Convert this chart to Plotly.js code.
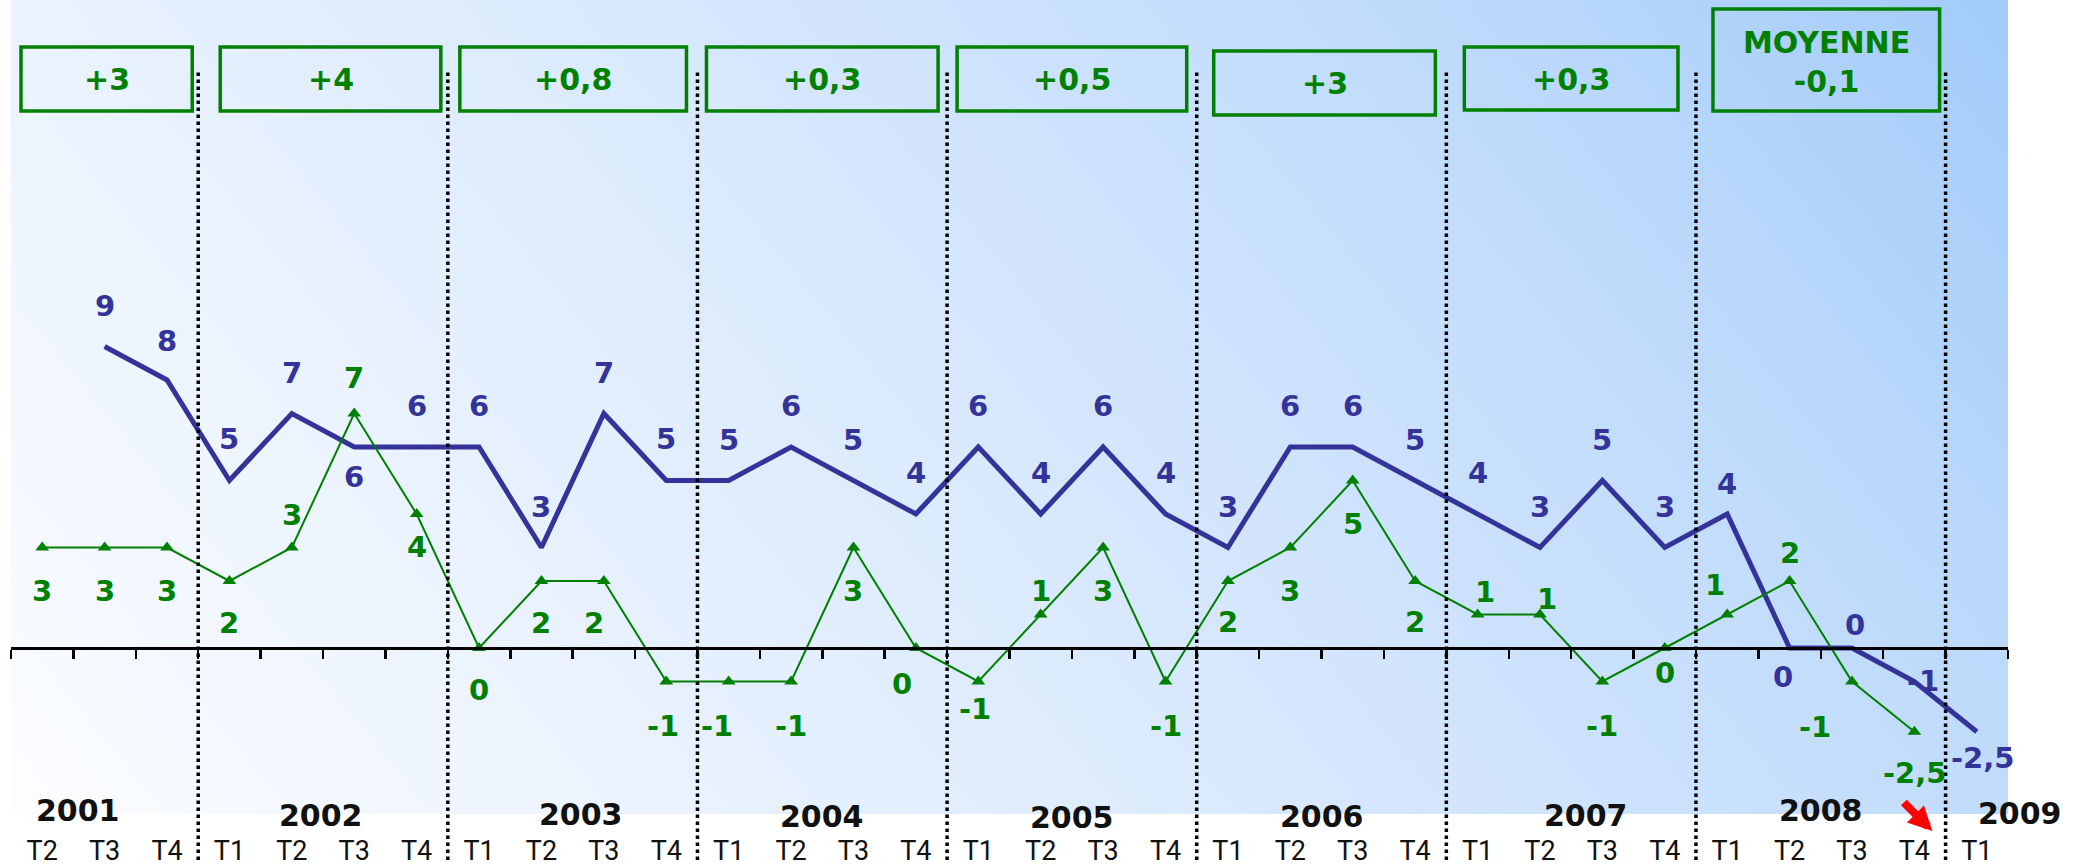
<!DOCTYPE html>
<html>
<head>
<meta charset="utf-8">
<script src="https://cdn.plot.ly/plotly-3.0.1.min.js"></script>
<style>
  html, body { margin: 0; padding: 0; background: #ffffff; }
  #chart { width: 2090px; height: 866px; }
</style>
</head>
<body>
<div id="chart"></div>
<script>
// ---------------- DATA ----------------
const yearLabels = ['2001', '2002', '2003', '2004', '2005', '2006', '2007', '2008', '2009'];
const quartersPerYear = [3, 4, 4, 4, 4, 4, 4, 4, 1];
const quarterLabels = [
  'T2', 'T3', 'T4',
  'T1', 'T2', 'T3', 'T4',
  'T1', 'T2', 'T3', 'T4',
  'T1', 'T2', 'T3', 'T4',
  'T1', 'T2', 'T3', 'T4',
  'T1', 'T2', 'T3', 'T4',
  'T1', 'T2', 'T3', 'T4',
  'T1', 'T2', 'T3', 'T4',
  'T1'
];
// thick blue series
const blueValues = [null, 9, 8, 5, 7, 6, 6, 6, 3, 7, 5, 5, 6, 5, 4, 6, 4, 6, 4, 3, 6, 6, 5, 4, 3, 5, 3, 4, 0, 0, -1, -2.5];
// thin green series with triangles
const greenValues = [3, 3, 3, 2, 3, 7, 4, 0, 2, 2, -1, -1, -1, 3, 0, -1, 1, 3, -1, 2, 3, 5, 2, 1, 1, -1, 0, 1, 2, -1, -2.5, null];
// yearly boxes (2001 .. 2008)
const boxTexts = ['+3', '+4', '+0,8', '+0,3', '+0,5', '+3', '+0,3', 'MOYENNE<br>-0,1'];

// ---------------- STYLE / PLACEMENT (pixels) ----------------
const W = 2090, H = 866;
const M = { l: 11, r: 82, t: 0, b: 52 };
const plotW = W - M.l - M.r, plotH = H - M.t - M.b;
const zeroPx = 648, unitPx = 33.5;           // y scale
const yTop = zeroPx / unitPx, yBot = (zeroPx - plotH) / unitPx;

const BLUE = '#333399', GREEN = '#008000';
const blueLabelDy = [0, 41, 39, 42, 41, -30, 41, 41, 41, 41, 42, 41, 41, 41, 41, 41, 41, 41, 41, 41, 41, 41, 41, 41, 41, 41, 41, 30, -29, 23, 1, -26];
const blueLabelDx = [0, 0, 0, 0, 0, 0, 0, 0, 0, 0, 0, 0, 0, 0, 0, 0, 0, 0, 0, 0, 0, 0, 0, 0, 0, 0, 0, 0, -7, 3, 9, 6];
const greenLabelDy = [-43, -43, -43, -42, 33, 36, -33, -42, -42, -42, -44, -44, -44, -43, -36, -27, 24, -43, -44, -41, -43, -43, -41, 23, 16, -44, -25, 30, 28, -45, -41, 0];
const greenLabelDx = [0, 0, 0, 0, 0, 0, 0, 0, 0, -10, -3, -12, 0, 0, -14, -3, 0, 0, 0, 0, 0, 0, 0, 7, 7, 0, 0, -12, 0, -37, 0, 0];
const yearShiftX = [-27, -2, 8, 0, 0, 0, 15, 0, 43];
const yearCenterPx = [810, 815, 814, 816, 817, 816, 815, 810, 813];
const boxInsetL = [10, 22, 12, 9, 10, 17, 18, 17];
const boxInsetR = [6, 7, 11, 9, 10, 11, 18, 6];
const boxTopPx = [47, 47, 47, 47, 47, 51, 47, 9];
const boxBotPx = [111, 111, 111, 111, 111, 115, 110, 111];
const boxTextPx = [79, 79, 79, 79, 79, 83, 79, 62];

// ---------------- BUILD ----------------
const categories = [];
const groupStart = [];  // first category index of each year
let k = 0;
yearLabels.forEach((y, gi) => {
  groupStart.push(k);
  for (let q = 0; q < quartersPerYear[gi]; q++) {
    categories.push(y + ' ' + quarterLabels[k]);
    k++;
  }
});
const nCat = categories.length;
const pxPerCat = plotW / nCat;
const fmt = v => String(v).replace('.', ',');

const traces = [
  {
    // carrier for the zero-line axis (x2), invisible
    type: 'scatter', mode: 'lines', x: [-0.5, nCat - 0.5], y: [0, 0],
    xaxis: 'x2', yaxis: 'y', line: { color: 'rgba(0,0,0,0)', width: 0 },
    hoverinfo: 'skip', showlegend: false
  },
  {
    type: 'scatter', mode: 'lines', x: categories, y: blueValues,
    line: { color: BLUE, width: 5 }, connectgaps: false, hoverinfo: 'x+y', name: 'bleu'
  },
  {
    type: 'scatter', mode: 'lines+markers', x: categories, y: greenValues,
    line: { color: GREEN, width: 2 },
    marker: { symbol: 'triangle-up', size: 12, color: GREEN },
    connectgaps: false, hoverinfo: 'x+y', name: 'vert'
  }
];

const annotations = [];
const labelFont = { family: 'DejaVu Sans', size: 29 };
blueValues.forEach((v, i) => {
  if (v === null) return;
  annotations.push({
    x: categories[i], y: v, xref: 'x', yref: 'y', text: '<b>' + fmt(v) + '</b>',
    showarrow: false, xanchor: 'center', yanchor: 'middle',
    xshift: blueLabelDx[i], yshift: blueLabelDy[i],
    font: Object.assign({ color: BLUE }, labelFont)
  });
});
greenValues.forEach((v, i) => {
  if (v === null) return;
  annotations.push({
    x: categories[i], y: v, xref: 'x', yref: 'y', text: '<b>' + fmt(v) + '</b>',
    showarrow: false, xanchor: 'center', yanchor: 'middle',
    xshift: greenLabelDx[i], yshift: greenLabelDy[i],
    font: Object.assign({ color: GREEN }, labelFont)
  });
});

// year labels
yearLabels.forEach((y, gi) => {
  const c = groupStart[gi] + (quartersPerYear[gi] - 1) / 2;
  annotations.push({
    x: c, y: 0, xref: 'x', yref: 'paper', text: '<b>' + y + '</b>',
    showarrow: false, xanchor: 'center', yanchor: 'middle',
    xshift: yearShiftX[gi], yshift: plotH - yearCenterPx[gi],
    font: { family: 'DejaVu Sans', size: 30, color: '#111111' }
  });
});

// boxes + separators
const shapes = [];
boxTexts.forEach((t, gi) => {
  const left = groupStart[gi] - 0.5;
  const right = groupStart[gi] + quartersPerYear[gi] - 0.5;
  const x0 = left + boxInsetL[gi] / pxPerCat;
  const x1 = right - boxInsetR[gi] / pxPerCat;
  shapes.push({
    type: 'rect', xref: 'x', yref: 'paper', x0: x0, x1: x1,
    y0: 1 - boxBotPx[gi] / plotH, y1: 1 - boxTopPx[gi] / plotH,
    line: { color: GREEN, width: 3.5 }, fillcolor: 'rgba(0,0,0,0)', layer: 'above'
  });
  annotations.push({
    x: (x0 + x1) / 2, y: 1 - boxTextPx[gi] / plotH, xref: 'x', yref: 'paper',
    text: '<b>' + t + '</b>', showarrow: false, xanchor: 'center', yanchor: 'middle',
    font: { family: 'DejaVu Sans', size: 30, color: GREEN }
  });
});
for (let gi = 1; gi < yearLabels.length; gi++) {
  const b = groupStart[gi] - 0.5;
  shapes.push({
    type: 'line', xref: 'x', yref: 'paper', x0: b, x1: b,
    y0: -(860 - plotH) / plotH, y1: 1 - 72 / plotH,
    line: { color: '#000000', width: 3.5, dash: 'dot' }, layer: 'above'
  });
}

// red arrow next to 2008 T4
annotations.push({
  x: categories[30], y: 0, xref: 'x', yref: 'paper', text: '',
  showarrow: true, ax: -30, ay: -30, xshift: 18, yshift: plotH - 831,
  arrowcolor: '#ff0000', arrowwidth: 8, arrowhead: 2, arrowsize: 0.6, standoff: 0
});

// gradient background for the plot area
const svg = '<svg xmlns="http://www.w3.org/2000/svg" width="' + plotW + '" height="' + plotH + '" viewBox="0 0 ' + plotW + ' ' + plotH + '" preserveAspectRatio="none">' +
  '<defs><linearGradient id="g" x1="0" y1="1" x2="1.2" y2="0.6">' +
  '<stop offset="0" stop-color="#fcfdff"/>' +
  '<stop offset="0.45" stop-color="#dbeafd"/>' +
  '<stop offset="0.8" stop-color="#bcd9fb"/>' +
  '<stop offset="1" stop-color="#a2cbf9"/>' +
  '</linearGradient></defs><rect x="0" y="0" width="' + plotW + '" height="' + plotH + '" fill="url(#g)"/></svg>';

const layout = {
  width: W, height: H,
  margin: M,
  paper_bgcolor: '#ffffff', plot_bgcolor: 'rgba(0,0,0,0)',
  showlegend: false,
  font: { family: 'DejaVu Sans' },
  images: [{
    source: 'data:image/svg+xml;charset=utf-8,' + encodeURIComponent(svg),
    xref: 'paper', yref: 'paper', x: 0, y: 1, sizex: 1, sizey: 1,
    xanchor: 'left', yanchor: 'top', sizing: 'stretch', layer: 'below'
  }],
  xaxis: {
    type: 'category', categoryorder: 'array', categoryarray: categories,
    range: [-0.5, nCat - 0.5], fixedrange: true,
    tickvals: categories, ticktext: quarterLabels,
    tickfont: { family: 'Roboto', size: 27, color: '#111111' },
    ticks: '', showline: false, showgrid: false, zeroline: false,
    ticklabelstandoff: 18
  },
  xaxis2: {
    type: 'linear', overlaying: 'x', anchor: 'free',
    position: (0 - yBot) / (yTop - yBot),
    range: [-0.5, nCat - 0.5], fixedrange: true,
    tickmode: 'linear', tick0: -0.5, dtick: 1, ticks: 'outside', ticklen: 9, tickwidth: 2.5, tickcolor: '#000000',
    showticklabels: false, showline: true, linecolor: '#000000', linewidth: 2.5,
    showgrid: false, zeroline: false
  },
  yaxis: {
    range: [yBot, yTop], fixedrange: true, visible: false,
    showgrid: false, zeroline: false
  },
  annotations: annotations,
  shapes: shapes
};

Plotly.newPlot('chart', traces, layout, { staticPlot: true, displayModeBar: false });
</script>
</body>
</html>
